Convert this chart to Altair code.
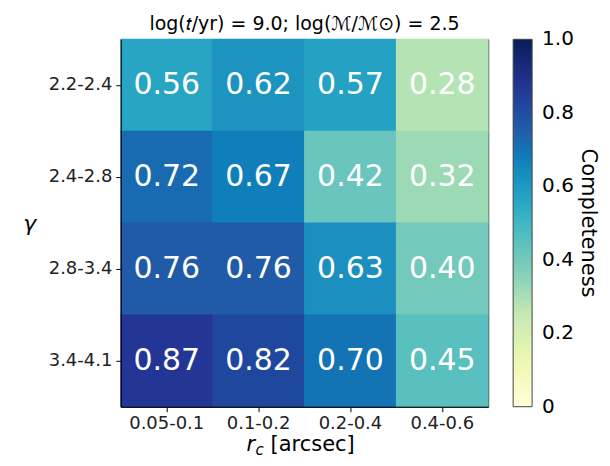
import altair as alt
import pandas as pd

rc_bins = ["0.05-0.1", "0.1-0.2", "0.2-0.4", "0.4-0.6"]
gamma_bins = ["2.2-2.4", "2.4-2.8", "2.8-3.4", "3.4-4.1"]
completeness = [
    [0.56, 0.62, 0.57, 0.28],
    [0.72, 0.67, 0.42, 0.32],
    [0.76, 0.76, 0.63, 0.40],
    [0.87, 0.82, 0.70, 0.45],
]
# colorbar tick positions (ends nudged inside so labels centre on the ticks)
cbar_ticks = [0.0001, 0.2, 0.4, 0.6, 0.8, 0.9999]
ylgnbu = ["#ffffd9", "#edf8b1", "#c7e9b4", "#7fcdbb", "#41b6c4",
          "#1d91c0", "#225ea8", "#253494", "#081d58"]
ylgnbu_stops = [0, 0.125, 0.25, 0.375, 0.5, 0.625, 0.75, 0.875, 1.0]

rows = []
for gi, g in enumerate(gamma_bins):
    for ri, r in enumerate(rc_bins):
        v = completeness[gi][ri]
        rows.append({"rc": r, "gamma": g, "value": v, "label": f"{v:.2f}"})
df = pd.DataFrame(rows)

W, H = 368, 368
font = "DejaVu Sans"
cscale = alt.Scale(domain=ylgnbu_stops, range=ylgnbu, type="linear")

base = alt.Chart(df).encode(
    x=alt.X("rc:N", sort=rc_bins, title=None,
            axis=alt.Axis(labelAngle=0, labelFontSize=18, labelColor="#222",
                          tickSize=5, tickColor="black", domainColor="black",
                          labelPadding=3)),
    y=alt.Y("gamma:N", sort=gamma_bins, title="γ",
            axis=alt.Axis(labelFontSize=18, labelColor="#222", tickSize=5,
                          tickColor="black", domainColor="black",
                          titleFontSize=22, titleFontWeight="normal",
                          titleFontStyle="italic", titleColor="black",
                          titleAngle=0, titleBaseline="middle", titlePadding=19,
                          labelPadding=4)),
)

rects = base.mark_rect(
    width=alt.RelativeBandSize(1.01), height=alt.RelativeBandSize(1.01)
).encode(
    color=alt.Color("value:Q", scale=cscale,
                    legend=alt.Legend(
                        type="gradient", direction="vertical",
                        title="Completeness", titleOrient="right",
                        titleFontSize=21, titleFontWeight="normal",
                        titleColor="black", titleAnchor="middle",
                        gradientLength=H, gradientThickness=19,
                        gradientStrokeColor="#444", gradientStrokeWidth=1,
                        values=cbar_ticks,
                        labelExpr="datum.value < 0.01 ? '0' : format(datum.value, '.1f')",
                        labelFontSize=20, labelColor="black", labelOffset=10,
                        labelBaseline="middle", labelOverlap=False,
                        offset=25, padding=0, titlePadding=4,
                    )),
)

texts = base.mark_text(fontSize=30, color="white", font=font).encode(
    text="label:N"
)

xt_r = alt.Chart(pd.DataFrame({"t": ["r"]})).mark_text(
    fontSize=21, font=font, fontStyle="italic", color="black",
    align="left", baseline="alphabetic"
).encode(x=alt.value(126), y=alt.value(H + 44), text="t:N")
xt_c = alt.Chart(pd.DataFrame({"t": ["c"]})).mark_text(
    fontSize=15, font=font, fontStyle="italic", color="black",
    align="left", baseline="alphabetic"
).encode(x=alt.value(135), y=alt.value(H + 48), text="t:N")
xt_rest = alt.Chart(pd.DataFrame({"t": ["[arcsec]"]})).mark_text(
    fontSize=21, font=font, color="black", align="left", baseline="alphabetic"
).encode(x=alt.value(150), y=alt.value(H + 44), text="t:N")

chart = alt.layer(rects, texts, xt_r, xt_c, xt_rest).properties(
    width=W, height=H,
    title=alt.Title("log(𝑡/yr) = 9.0; log(ℳ/ℳ⊙) = 2.5", fontSize=19,
                    fontWeight="normal", color="black", offset=5, font=font),
).configure(font=font).configure_view(stroke="black", strokeWidth=1).configure_axis(
    grid=False, labelFont=font, titleFont=font
).configure_legend(labelFont=font, titleFont=font).properties(
    padding={"left": 14, "top": 6, "right": 3, "bottom": 0}
)

chart.save("out.html", embed_options={"renderer": "svg", "actions": False})
